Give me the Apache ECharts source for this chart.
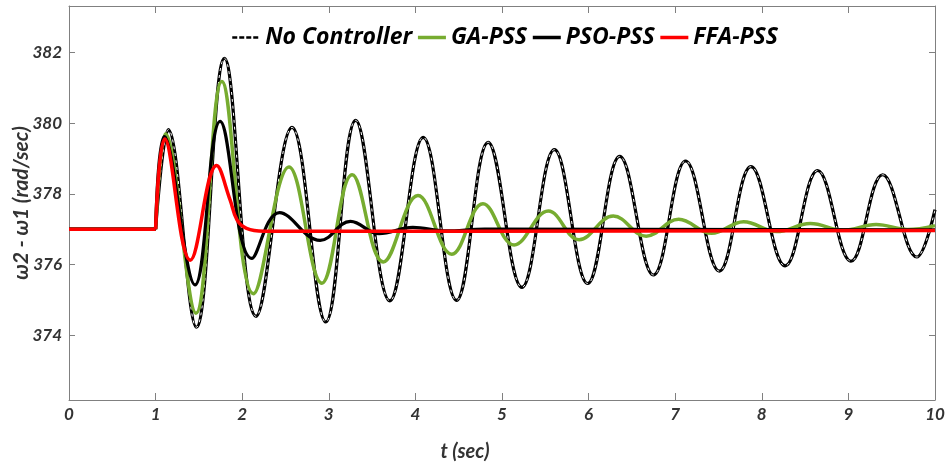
<!DOCTYPE html>
<html>
<head>
<meta charset="utf-8">
<script src="https://cdn.jsdelivr.net/npm/echarts@6/dist/echarts.min.js"></script>
<style>html,body{margin:0;padding:0;background:#fff}#c{width:948px;height:466px}</style>
</head>
<body>
<div id="c"></div>
<script>
// ---- data (t in sec, value in rad/sec) ----
const GAP = [1, '-'];
const noController = [[0,377],[1,377],GAP,[1,377],[1.147,379.82],[1.47,374.22],[1.795,381.84],[2.16,374.53],[2.575,379.88],[2.965,374.37],[3.31,380.08],[3.705,374.97],[4.09,379.6],[4.475,374.98],[4.84,379.46],[5.23,375.35],[5.605,379.25],[5.99,375.46],[6.36,379.06],[6.75,375.7],[7.12,378.93],[7.51,375.81],[7.875,378.77],[8.27,375.96],[8.645,378.66],[9.03,376.09],[9.395,378.54],[9.79,376.21],[10,377.55]];
const gaPss = [[0,377],[1,377],GAP,[1,377],[1.115,379.7],[1.466,374.62],[1.765,381.18],[2.13,375.17],[2.54,378.76],[2.92,375.47],[3.27,378.54],[3.63,376.07],[4.03,377.95],[4.42,376.29],[4.78,377.72],[5.14,376.55],[5.535,377.51],[5.89,376.7],[6.285,377.37],[6.665,376.8],[7.04,377.28],[7.42,376.88],[7.79,377.21],[8.17,376.93],[8.56,377.16],[8.94,376.97],[9.32,377.13],[9.68,376.99],[10,377.1]];
const psoPss = [[0,377],[1,377],GAP,[1,377],[1.10,379.62],[1.455,375.42],[1.745,380.05],[2.11,376.17],[2.43,377.47],[2.9,376.68],[3.25,377.22],[3.58,376.87],[3.97,377.05],[4.35,376.95],[4.8,377.0],[10,376.98]];
const ffaPss = [[0,377],[1,377],GAP,[1,377],[1.105,379.55],[1.40,376.12],[1.705,378.8],[1.86,377.83],[1.94,377.26],[2.05,377.02],[2.25,376.94],[10,376.96]];
const xTicks = [0,1,2,3,4,5,6,7,8,9,10];
const yTicks = [374,376,378,380,382];
const seriesNames = ['No Controller','GA-PSS','PSO-PSS','FFA-PSS'];

const FONT = 'Lato';
const AXC = '#808080';
const lab = {fontFamily: FONT, fontWeight: 'bold', fontStyle: 'italic', fontSize: 17, color: '#333'};
const chart = echarts.init(document.getElementById('c'), null, {renderer: 'canvas'});
const SM = 0.4;
chart.setOption({
  animation: false,
  backgroundColor: '#fff',
  grid: {left: 69, right: 13, top: 6, bottom: 66, outerBoundsMode: 'none', containLabel: false},
  legend: {
    left: 226, top: 21, itemWidth: 28, itemHeight: 12, itemGap: 4,
    itemStyle: {opacity: 0},
    textStyle: {fontFamily: 'Open Sans', fontWeight: 'bold', fontStyle: 'italic', fontSize: 23, color: '#000'},
    data: [
      {name: seriesNames[0], lineStyle: {color: '#000', width: 2.5, type: [5, 2]}},
      {name: seriesNames[1], lineStyle: {color: '#77AC30', width: 3.5}},
      {name: seriesNames[2], lineStyle: {color: '#000', width: 3.5}},
      {name: seriesNames[3], lineStyle: {color: '#FF0000', width: 3.5}}
    ]
  },
  xAxis: [{
    type: 'value', min: 0, max: 10, interval: 1,
    axisLine: {show: true, lineStyle: {color: AXC, width: 1}},
    axisTick: {show: true, inside: true, length: 7, lineStyle: {color: AXC}},
    axisLabel: Object.assign({margin: 6, customValues: xTicks}, lab),
    splitLine: {show: false},
    name: 't (sec)', nameLocation: 'middle', nameGap: 42, nameMoveOverlap: false,
    nameTextStyle: {fontFamily: FONT, fontWeight: 'bold', fontStyle: 'italic', fontSize: 20, color: '#333', padding: [0, 74, 0, 0]}
  }, {
    type: 'value', min: 0, max: 10, interval: 1, position: 'top',
    axisLine: {show: true, onZero: false, lineStyle: {color: AXC, width: 1}},
    axisTick: {show: true, inside: true, length: 7, lineStyle: {color: AXC}},
    axisLabel: {show: false}, splitLine: {show: false}
  }],
  yAxis: [{
    type: 'value', min: 372.16, max: 383.32,
    axisLine: {show: true, lineStyle: {color: AXC, width: 1}},
    axisTick: {show: true, inside: true, length: 6, lineStyle: {color: AXC}, customValues: yTicks},
    axisLabel: Object.assign({margin: 7, customValues: yTicks}, lab),
    splitLine: {show: false},
    name: 'ω2 - ω1 (rad/sec)', nameLocation: 'middle', nameGap: 37, nameMoveOverlap: false,
    nameTextStyle: {fontFamily: FONT, fontWeight: 'bold', fontStyle: 'italic', fontSize: 21, color: '#333'}
  }, {
    type: 'value', min: 372.16, max: 383.32, position: 'right',
    axisLine: {show: true, onZero: false, lineStyle: {color: AXC, width: 1}},
    axisTick: {show: true, inside: true, length: 6, lineStyle: {color: AXC}, customValues: yTicks},
    axisLabel: {show: false}, splitLine: {show: false}
  }],
  series: [
    {name: seriesNames[0], type: 'line', data: noController, symbol: 'none', smooth: SM, connectNulls: false,
     lineStyle: {color: '#000', width: 3.2}, itemStyle: {color: '#000'}, z: 2},
    {name: 'nc-dash', type: 'line', data: noController, symbol: 'none', smooth: SM, connectNulls: false,
     lineStyle: {color: '#fff', width: 1, type: [3, 4]}, itemStyle: {color: '#fff'}, silent: true, z: 2},
    {name: seriesNames[1], type: 'line', data: gaPss, symbol: 'none', smooth: SM,
     lineStyle: {color: '#77AC30', width: 3.5}, itemStyle: {color: '#77AC30'}, z: 3},
    {name: seriesNames[2], type: 'line', data: psoPss, symbol: 'none', smooth: SM,
     lineStyle: {color: '#000', width: 3.2}, itemStyle: {color: '#000'}, z: 4},
    {name: seriesNames[3], type: 'line', data: ffaPss, symbol: 'none', smooth: SM,
     lineStyle: {color: '#FF0000', width: 3.5}, itemStyle: {color: '#FF0000'}, z: 5}
  ]
});
</script>
</body>
</html>
